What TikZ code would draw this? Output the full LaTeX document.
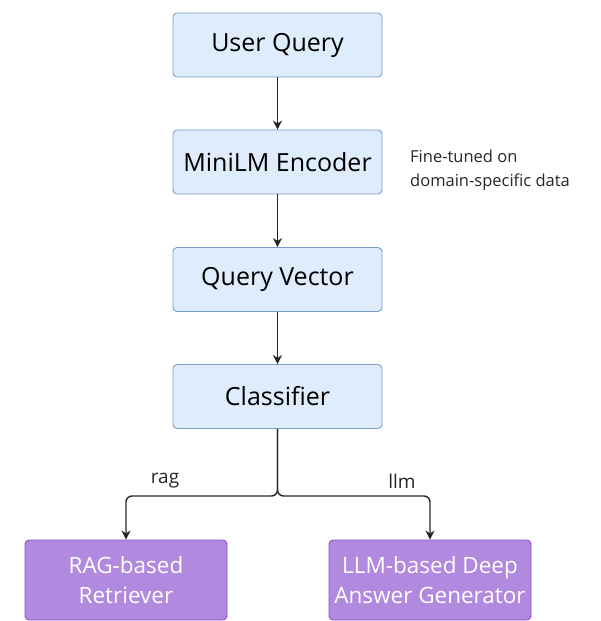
\documentclass[tikz,border=0pt]{standalone}
\usepackage{fontspec}
\setmainfont{Open Sans}
\usetikzlibrary{arrows.meta}
\definecolor{bluefill}{HTML}{DEECFC}
\definecolor{blueline}{HTML}{7A9CCB}
\definecolor{purpfill}{HTML}{B189DF}
\definecolor{purpline}{HTML}{8556C6}
\tikzset{
  bluebox/.style={draw=blueline, fill=bluefill, rounded corners=4pt, line width=0.9pt,
    minimum width=209pt, minimum height=64pt, inner sep=0pt, font=\fontsize{25}{30}\selectfont, text=black},
  purpbox/.style={draw=purpline, fill=purpfill, rounded corners=4pt, line width=0.9pt,
    minimum width=202pt, minimum height=80pt, inner sep=0pt, align=center,
    font=\fontsize{22.5}{30}\selectfont, text=white},
  conn/.style={draw=black!85, line width=1.4pt, -{Stealth[length=9pt,width=9pt]}},
  lbl/.style={font=\fontsize{19}{22}\selectfont, text=black!85, inner sep=0pt},
  note/.style={font=\fontsize{16.5}{24}\selectfont, text=black!85, align=left, inner sep=0pt, anchor=west}
}
\begin{document}
\begin{tikzpicture}[x=1pt,y=-1pt]
\useasboundingbox (0,0) rectangle (600,621);
\node[bluebox] (uq) at (277.5,45) {User Query};
\node[bluebox] (enc) at (277.5,162) {MiniLM Encoder};
\node[bluebox] (qv) at (277.5,279.5) {Query Vector};
\node[bluebox] (cls) at (277.5,396.5) {Classifier};
\node[purpbox] (rag) at (126,580) {RAG-based\\Retriever};
\node[purpbox] (llm) at (430,580) {LLM-based Deep\\Answer Generator};
\node[note] (nt) at (410,170) {Fine-tuned on\\domain-specific data};
\coordinate (j) at (277.5,496);
\draw[conn] (uq) -- (enc);
\draw[conn] (enc) -- (qv);
\draw[conn] (qv) -- (cls);
\draw[conn, rounded corners=6pt] (cls.south) -- (j) -| (rag.north);
\draw[conn, rounded corners=6pt] (cls.south) -- (j) -| (llm.north);
\node[lbl] (lr) at (165,481) {rag};
\node[lbl] (ll) at (402,481) {llm};
\end{tikzpicture}
\end{document}
